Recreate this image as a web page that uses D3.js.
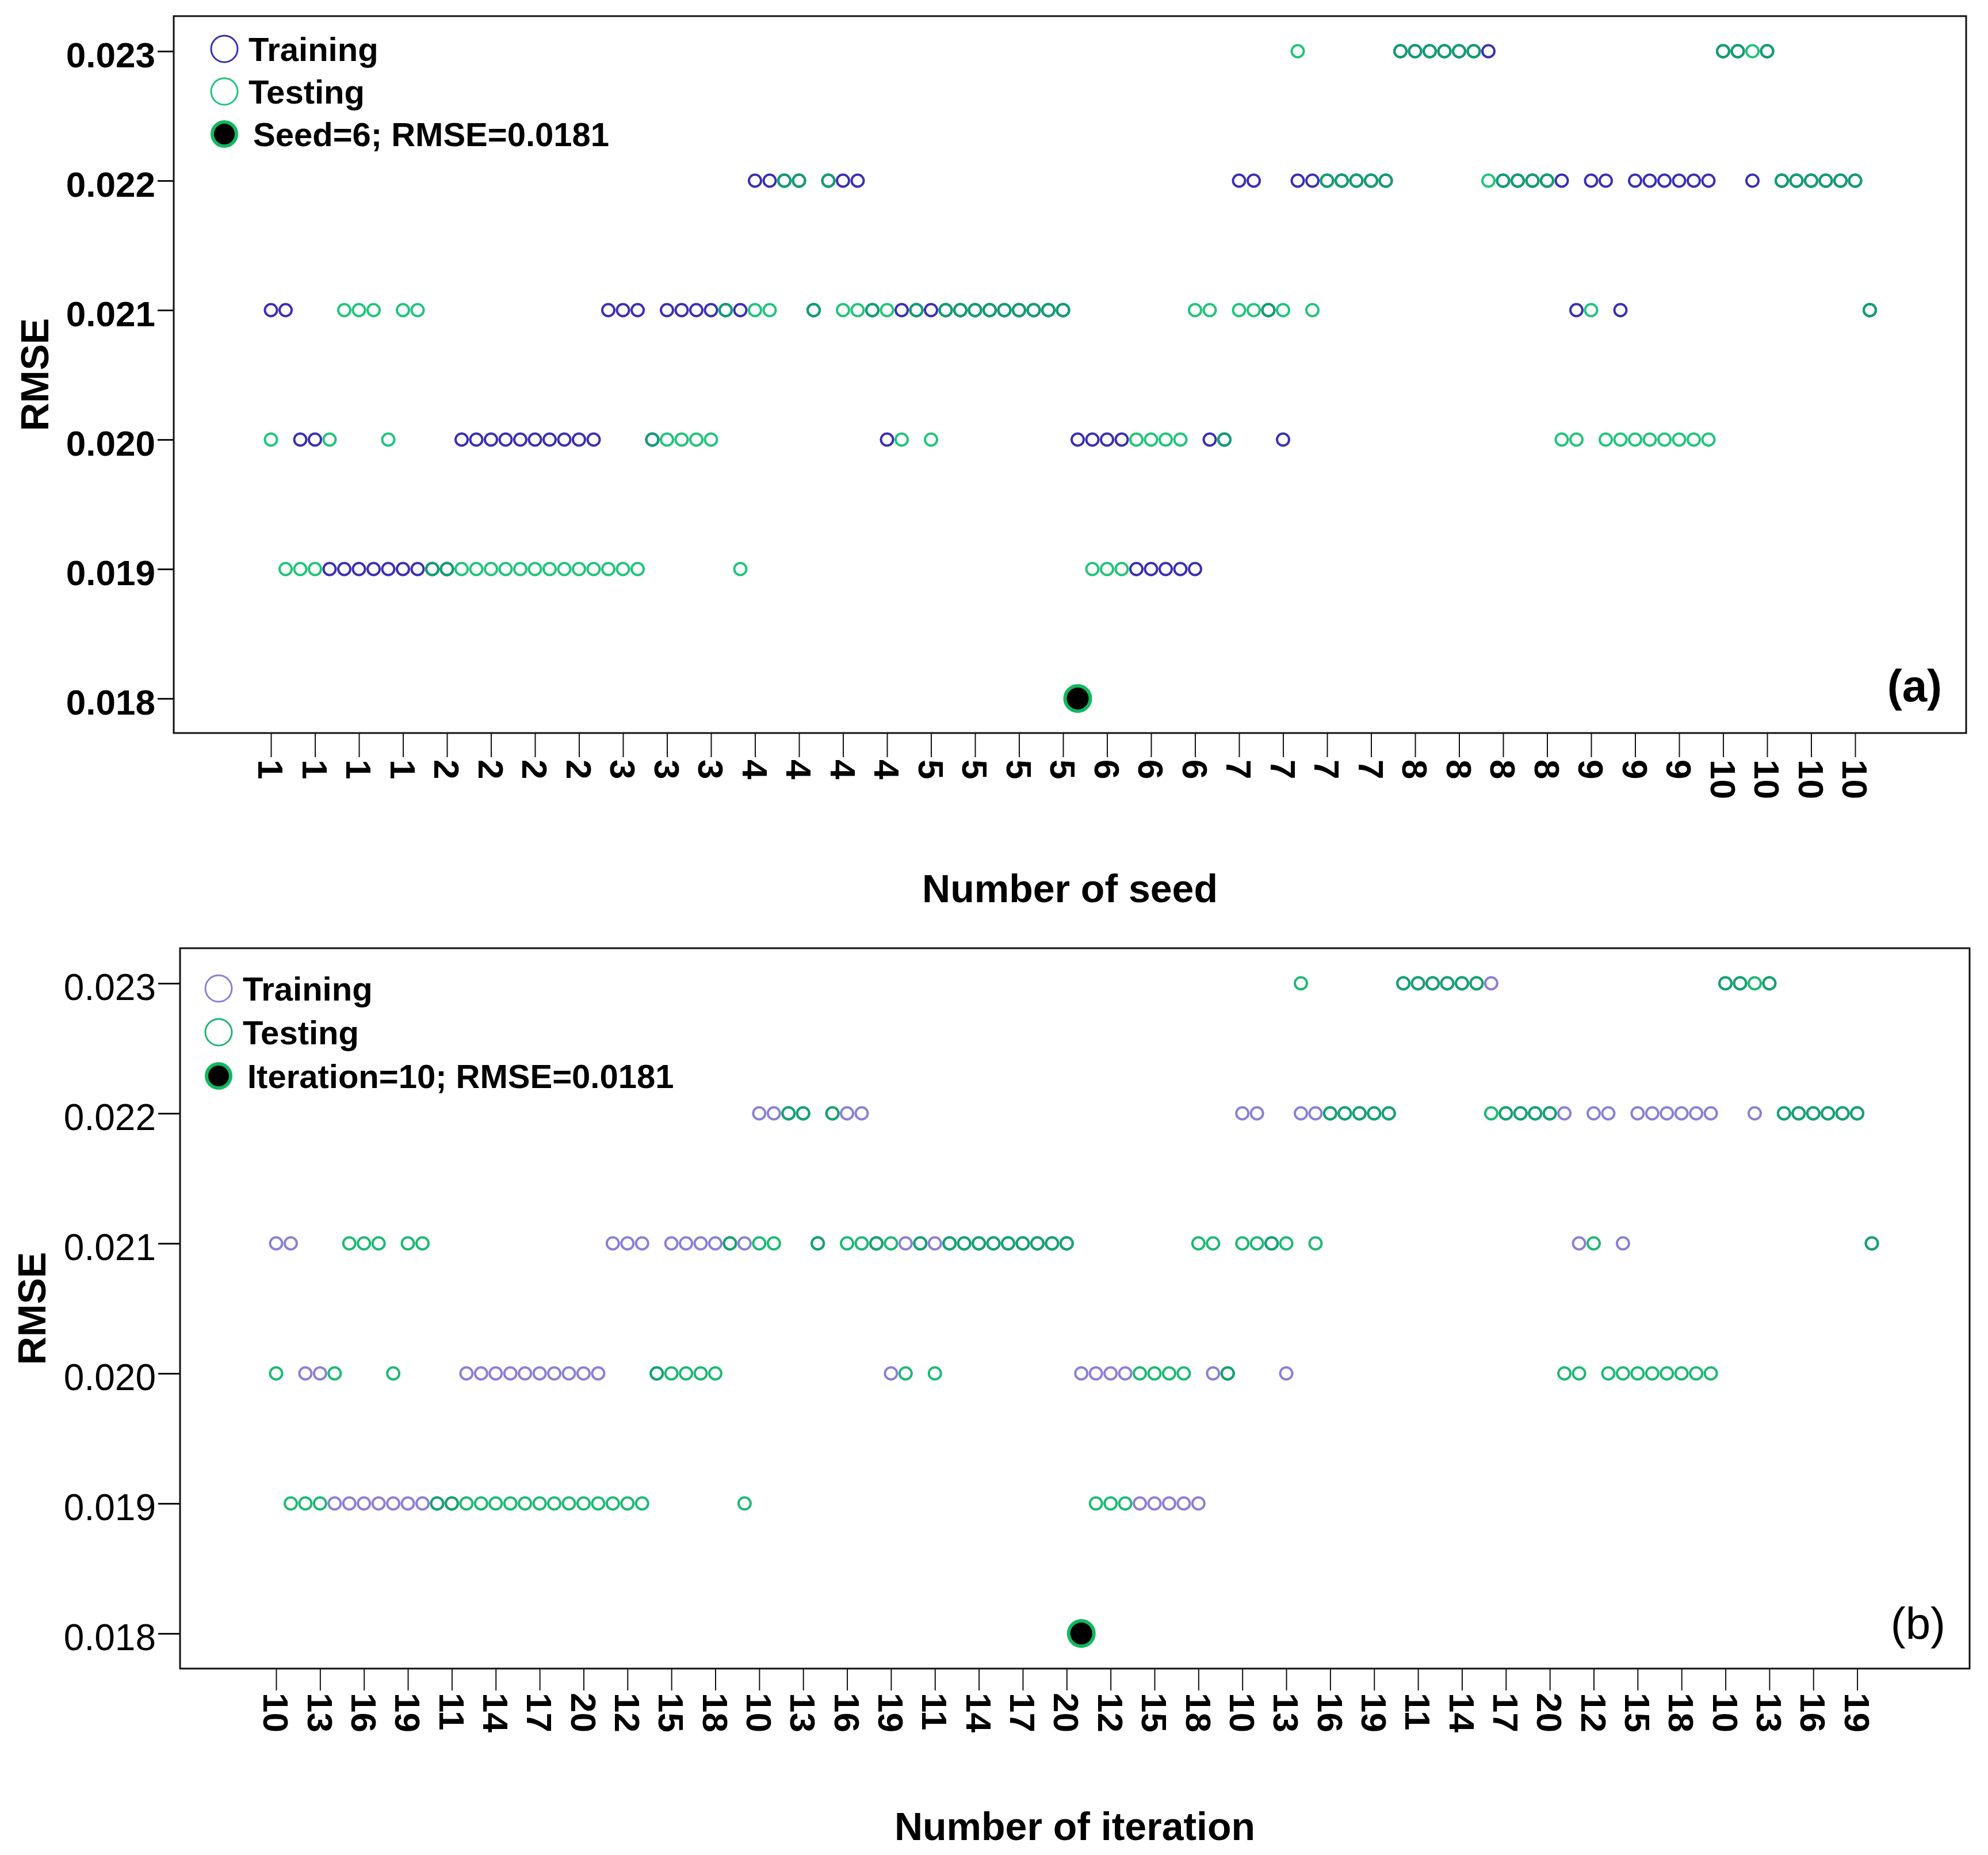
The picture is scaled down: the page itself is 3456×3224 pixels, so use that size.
<!DOCTYPE html>
<html>
<head>
<meta charset="utf-8">
<script src="https://cdn.jsdelivr.net/npm/d3@7"></script>
<style>
  body { margin: 0; background: #fff; }
  text { font-family: "Liberation Sans", Arial, sans-serif; }
</style>
</head>
<body>
<svg id="chart" width="3456" height="3224"></svg>
<script>
// categories: seed 1..10, each with iteration 10..20 (110 runs)
const seeds = [1, 2, 3, 4, 5, 6, 7, 8, 9, 10];
const iterations = [10, 11, 12, 13, 14, 15, 16, 17, 18, 19, 20];

// RMSE per run, one row of 11 per seed
const trainRMSE = [
  0.021, 0.021, 0.020, 0.020, 0.019, 0.019, 0.019, 0.019, 0.019, 0.019, 0.019,
  0.019, 0.019, 0.020, 0.020, 0.020, 0.020, 0.020, 0.020, 0.020, 0.020, 0.020,
  0.020, 0.021, 0.021, 0.021, 0.020, 0.021, 0.021, 0.021, 0.021, 0.021, 0.021,
  0.022, 0.022, 0.022, 0.022, 0.021, 0.022, 0.022, 0.022, 0.021, 0.020, 0.021,
  0.021, 0.021, 0.021, 0.021, 0.021, 0.021, 0.021, 0.021, 0.021, 0.021, 0.021,
  0.020, 0.020, 0.020, 0.020, 0.019, 0.019, 0.019, 0.019, 0.019, 0.020, 0.020,
  0.022, 0.022, 0.021, 0.020, 0.022, 0.022, 0.022, 0.022, 0.022, 0.022, 0.022,
  0.023, 0.023, 0.023, 0.023, 0.023, 0.023, 0.023, 0.022, 0.022, 0.022, 0.022,
  0.022, 0.021, 0.022, 0.022, 0.021, 0.022, 0.022, 0.022, 0.022, 0.022, 0.022,
  0.023, 0.023, 0.022, 0.023, 0.022, 0.022, 0.022, 0.022, 0.022, 0.022, 0.021
];
const testRMSE = [
  0.020, 0.019, 0.019, 0.019, 0.020, 0.021, 0.021, 0.021, 0.020, 0.021, 0.021,
  0.019, 0.019, 0.019, 0.019, 0.019, 0.019, 0.019, 0.019, 0.019, 0.019, 0.019,
  0.019, 0.019, 0.019, 0.019, 0.020, 0.020, 0.020, 0.020, 0.020, 0.021, 0.019,
  0.021, 0.021, 0.022, 0.022, 0.021, 0.022, 0.021, 0.021, 0.021, 0.021, 0.020,
  0.021, 0.020, 0.021, 0.021, 0.021, 0.021, 0.021, 0.021, 0.021, 0.021, 0.021,
  0.018, 0.019, 0.019, 0.019, 0.020, 0.020, 0.020, 0.020, 0.021, 0.021, 0.020,
  0.021, 0.021, 0.021, 0.021, 0.023, 0.021, 0.022, 0.022, 0.022, 0.022, 0.022,
  0.023, 0.023, 0.023, 0.023, 0.023, 0.023, 0.022, 0.022, 0.022, 0.022, 0.022,
  0.020, 0.020, 0.021, 0.020, 0.020, 0.020, 0.020, 0.020, 0.020, 0.020, 0.020,
  0.023, 0.023, 0.023, 0.023, 0.022, 0.022, 0.022, 0.022, 0.022, 0.022, 0.021
];

// best run (seed 6, iteration 10)
const bestIndex = 55;
const bestRMSE = 0.0181;

const yTicks = [0.018, 0.019, 0.020, 0.021, 0.022, 0.023];

// every third run gets a tick label
const seedTickLabels = [1, 1, 1, 1, 2, 2, 2, 2, 3, 3, 3, 4, 4, 4, 4, 5, 5, 5, 5,
  6, 6, 6, 7, 7, 7, 7, 8, 8, 8, 8, 9, 9, 9, 10, 10, 10, 10];
const iterationTickLabels = [10, 13, 16, 19, 11, 14, 17, 20, 12, 15, 18, 10, 13, 16, 19,
  11, 14, 17, 20, 12, 15, 18, 10, 13, 16, 19, 11, 14, 17, 20, 12, 15, 18, 10, 13, 16, 19];

const runs = d3.range(trainRMSE.length);
const svg = d3.select("#chart");

function drawPanel(cfg) {
  const g = svg.append("g");

  const x = d3.scaleLinear()
    .domain([0, runs.length - 1])
    .range([cfg.x0, cfg.x0 + (runs.length - 1) * cfg.step]);
  const y = d3.scaleLinear()
    .domain([0.018, 0.023])
    .range([cfg.y018, cfg.y023]);

  // frame
  g.append("rect")
    .attr("x", cfg.left)
    .attr("y", cfg.top)
    .attr("width", cfg.right - cfg.left)
    .attr("height", cfg.bottom - cfg.top)
    .attr("fill", "none")
    .attr("stroke", "#111")
    .attr("stroke-width", 3);

  // y axis
  const yAxis = g.append("g")
    .attr("transform", `translate(${cfg.left},0)`)
    .call(d3.axisLeft(y).tickValues(yTicks).tickFormat(d3.format(".3f"))
      .tickSize(cfg.yTickLen).tickPadding(4));
  yAxis.select(".domain").remove();
  yAxis.selectAll("line").attr("stroke", "#111").attr("stroke-width", 3);
  yAxis.selectAll("text")
    .attr("dy", "0.45em")
    .attr("fill", "#000")
    .style("font-size", cfg.yFont + "px")
    .style("font-weight", cfg.yBold ? "bold" : "normal");

  // x axis, labels turned to read top-down
  const xAxis = g.append("g")
    .attr("transform", `translate(0,${cfg.bottom})`)
    .call(d3.axisBottom(x).tickValues(d3.range(0, runs.length, 3))
      .tickFormat((d, k) => cfg.tickLabels[k]).tickSize(cfg.xTickLen));
  xAxis.select(".domain").remove();
  xAxis.selectAll("line").attr("stroke", "#111").attr("stroke-width", 2);
  xAxis.selectAll("text")
    .attr("x", cfg.xTickLen + 4)
    .attr("y", 0)
    .attr("dy", "0.36em")
    .attr("transform", "rotate(90)")
    .attr("fill", "#000")
    .style("text-anchor", "start")
    .style("font-size", "62px")
    .style("font-weight", "bold");

  // training points
  g.append("g").selectAll("circle")
    .data(runs)
    .join("circle")
    .attr("cx", (i) => x(i))
    .attr("cy", (i) => y(trainRMSE[i]))
    .attr("r", 10.5)
    .attr("fill", "none")
    .attr("stroke", cfg.trainColor)
    .attr("stroke-width", 4);

  // testing points (darker where they sit on a training point)
  g.append("g").selectAll("circle")
    .data(runs.filter((i) => i !== bestIndex))
    .join("circle")
    .attr("cx", (i) => x(i))
    .attr("cy", (i) => y(testRMSE[i]))
    .attr("r", 10.5)
    .attr("fill", "none")
    .attr("stroke", (i) => testRMSE[i] === trainRMSE[i] ? cfg.overlapColor : cfg.testColor)
    .attr("stroke-width", 4);

  // best run
  g.append("circle")
    .attr("cx", x(bestIndex))
    .attr("cy", y(testRMSE[bestIndex]))
    .attr("r", 22)
    .attr("fill", "#000")
    .attr("stroke", "#12b860")
    .attr("stroke-width", 6);

  // legend
  const lg = g.append("g");
  const items = [
    { label: "Training", kind: "train" },
    { label: "Testing", kind: "test" },
    { label: cfg.bestLabel, kind: "best" }
  ];
  items.forEach((it, k) => {
    const cy = cfg.legendY + k * cfg.legendGap;
    lg.append("circle")
      .attr("cx", cfg.legendX)
      .attr("cy", cy)
      .attr("r", it.kind === "best" ? 21 : 23)
      .attr("fill", it.kind === "best" ? "#000" : "none")
      .attr("stroke", it.kind === "train" ? cfg.trainColor : it.kind === "test" ? cfg.testColor : "#12b860")
      .attr("stroke-width", it.kind === "best" ? 6 : 3);
    lg.append("text")
      .attr("x", cfg.legendX + (it.kind === "best" ? 50 : 42))
      .attr("y", cy)
      .attr("dy", "0.37em")
      .style("font-size", "58px")
      .style("font-weight", "bold")
      .text(it.label);
  });

  // panel tag
  g.append("text")
    .attr("x", cfg.right - 42)
    .attr("y", cfg.tagY)
    .attr("text-anchor", "end")
    .style("font-size", "78px")
    .style("font-weight", cfg.tagBold ? "bold" : "normal")
    .text(cfg.tag);

  // axis titles
  g.append("text")
    .attr("x", (cfg.left + cfg.right) / 2)
    .attr("y", cfg.xTitleY)
    .attr("text-anchor", "middle")
    .style("font-size", "68px")
    .style("font-weight", "bold")
    .text(cfg.xTitle);

  g.append("text")
    .attr("transform", `translate(${cfg.yTitleX},${(cfg.top + cfg.bottom) / 2}) rotate(-90)`)
    .attr("text-anchor", "middle")
    .style("font-size", "68px")
    .style("font-weight", "bold")
    .text("RMSE");
}

drawPanel({
  left: 302, top: 28, right: 3418, bottom: 1274,
  x0: 471, step: 25.5, y018: 1214, y023: 89,
  yTickLen: 28, xTickLen: 42, yFont: 62, yBold: true,
  tickLabels: seedTickLabels,
  trainColor: "#3a2fb2", testColor: "#20c47a", overlapColor: "#10a070",
  legendX: 390, legendY: 85, legendGap: 74,
  bestLabel: `Seed=${seeds[5]}; RMSE=${bestRMSE}`,
  tag: "(a)", tagY: 1219, tagBold: true,
  xTitle: "Number of seed", xTitleY: 1568, yTitleX: 84
});

drawPanel({
  left: 313, top: 1648, right: 3424, bottom: 2900,
  x0: 480, step: 25.45, y018: 2839, y023: 1709,
  yTickLen: 38, xTickLen: 38, yFont: 64, yBold: false,
  tickLabels: iterationTickLabels,
  trainColor: "#8a7fd6", testColor: "#1db873", overlapColor: "#12a46c",
  legendX: 380, legendY: 1718, legendGap: 76,
  bestLabel: `Iteration=${iterations[0]}; RMSE=${bestRMSE}`,
  tag: "(b)", tagY: 2849, tagBold: false,
  xTitle: "Number of iteration", xTitleY: 3198, yTitleX: 79
});
</script>
</body>
</html>
